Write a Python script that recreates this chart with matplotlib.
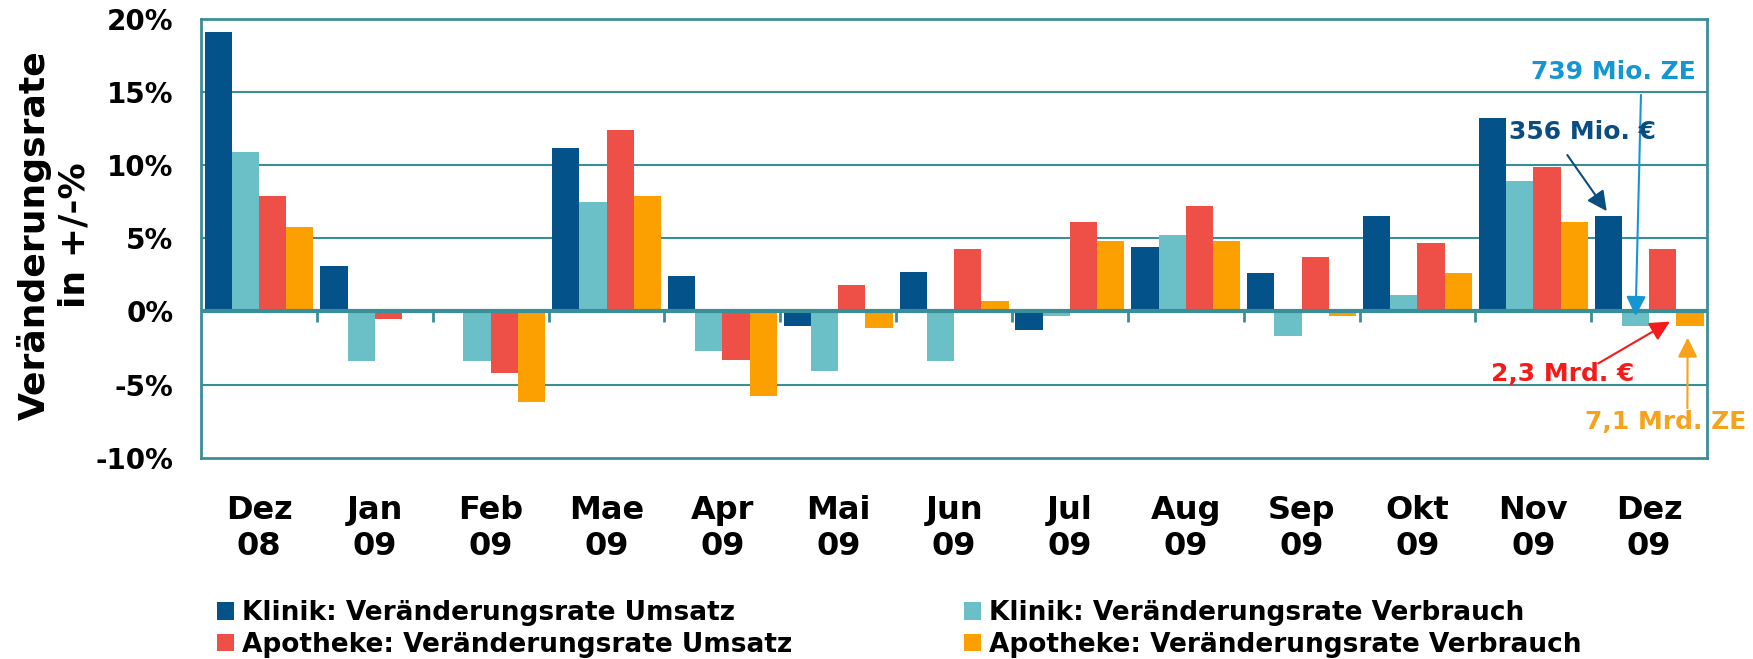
import numpy as np
import matplotlib
matplotlib.use('Agg')
import matplotlib.pyplot as plt

# Data (Veränderungsrate in %)
months = ['Dez\n08', 'Jan\n09', 'Feb\n09', 'Mae\n09', 'Apr\n09', 'Mai\n09', 'Jun\n09',
          'Jul\n09', 'Aug\n09', 'Sep\n09', 'Okt\n09', 'Nov\n09', 'Dez\n09']
klinik_umsatz = [19.1, 3.1, 0.0, 11.2, 2.4, -1.0, 2.7, -1.3, 4.4, 2.6, 6.5, 13.2, 6.5]
klinik_verbrauch = [10.9, -3.4, -3.4, 7.5, -2.7, -4.1, -3.4, -0.3, 5.2, -1.7, 1.1, 8.9, -1.0]
apotheke_umsatz = [7.9, -0.5, -4.2, 12.4, -3.3, 1.8, 4.3, 6.1, 7.2, 3.7, 4.7, 9.9, 4.3]
apotheke_verbrauch = [5.8, -0.1, -6.2, 7.9, -5.8, -1.1, 0.7, 4.8, 4.8, -0.3, 2.6, 6.1, -1.0]

series = [
    ('Klinik: Veränderungsrate Umsatz', klinik_umsatz, '#03528A'),
    ('Klinik: Veränderungsrate Verbrauch', klinik_verbrauch, '#6BC0C8'),
    ('Apotheke: Veränderungsrate Umsatz', apotheke_umsatz, '#EE5048'),
    ('Apotheke: Veränderungsrate Verbrauch', apotheke_verbrauch, '#FBA000'),
]

teal = '#3A8E98'
plt.rcParams['font.family'] = 'DejaVu Sans'
plt.rcParams['font.weight'] = 'bold'

fig = plt.figure(figsize=(17.53, 6.59), dpi=100)
ax = fig.add_axes([0.1147, 0.3055, 0.8591, 0.6657])

x = np.arange(len(months))
width = 0.235
bars = []
for i, (label, vals, color) in enumerate(series):
    b = ax.bar(x + (i - 1.5) * width, vals, width, color=color, label=label, zorder=2)
    bars.append(b)

ax.set_xlim(-0.5, len(months) - 0.5)
ax.set_ylim(-10, 20)
ax.set_yticks([-10, -5, 0, 5, 10, 15, 20])
ax.set_yticklabels(['-10%', '-5%', '0%', '5%', '10%', '15%', '20%'])
ax.tick_params(axis='y', length=0, pad=20, labelsize=20)
ax.set_xticks(x)
ax.set_xticklabels(months, fontsize=23, linespacing=1.2)
ax.tick_params(axis='x', length=0, pad=27)

for s in ax.spines.values():
    s.set_color(teal)
    s.set_linewidth(2)
for yv in [-5, 5, 10, 15]:
    ax.axhline(yv, color=teal, lw=1.5, zorder=1)
ax.axhline(0, color=teal, lw=3, zorder=3)
ax.vlines(x[:-1] + 0.5, -0.7, 0, color=teal, lw=2, zorder=3)

fig.text(0.031, 0.643, 'Veränderungsrate\nin +/-%', rotation=90, ha='center', va='center',
         fontsize=26, linespacing=1.2)

# Annotations for Dez 09
last = len(months) - 1
anns = [
    ('739 Mio. ZE', '#1596D2', (last - 0.5 * width, -0.5), (11.93, 15.0), (12.4, 16.4), 'right'),
    ('356 Mio. €', '#0A4D80', (last - 1.5 * width, klinik_umsatz[-1] + 0.2), (11.28, 10.85), (10.79, 12.3), 'left'),
    ('2,3 Mrd. €', '#F51B1B', (last + 0.2, -0.6), (11.54, -3.65), (11.25, -4.26), 'center'),
    ('7,1 Mrd. ZE', '#F7A21B', (last + 1.5 * width - 0.02, apotheke_verbrauch[-1] - 0.6), (12.33, -6.8), (12.14, -7.55), 'center'),
]
for text, color, head, tail, pos, ha in anns:
    ax.annotate('', xy=head, xytext=tail, annotation_clip=False, zorder=5,
                arrowprops=dict(arrowstyle='-|>', color=color, lw=1.5, mutation_scale=30))
    ax.text(pos[0], pos[1], text, color=color, fontsize=18, ha=ha, va='center', zorder=6,
            clip_on=False)

# Legend (two columns)
handles = [b.patches[0] for b in bars]
labels = [s[0] for s in series]
leg_kw = dict(frameon=False, loc='upper left', fontsize=19, handlelength=0.65, handleheight=0.65,
              handletextpad=0.3, labelspacing=0.22, borderpad=0, borderaxespad=0)
leg1 = fig.legend([handles[0], handles[2]], [labels[0], labels[2]],
                  bbox_to_anchor=(217 / 1753, 1 - 600 / 659), **leg_kw)
leg2 = fig.legend([handles[1], handles[3]], [labels[1], labels[3]],
                  bbox_to_anchor=(964 / 1753, 1 - 600 / 659), **leg_kw)

fig.savefig('out.png', dpi=100)
